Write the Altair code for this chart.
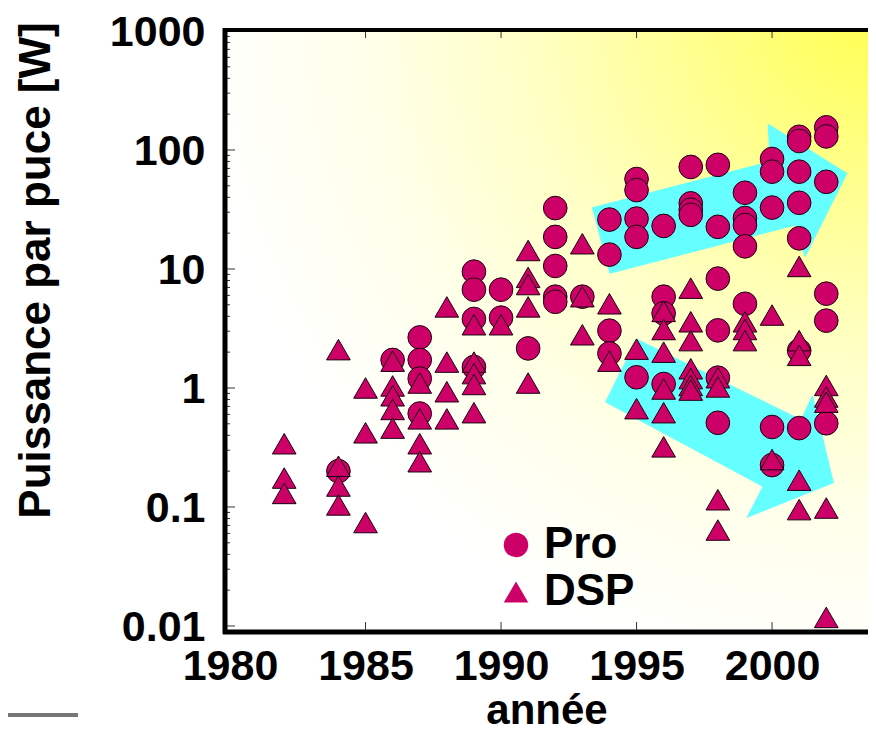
import altair as alt
import pandas as pd

# ---------------- data ----------------
pro_year = [1984, 1986, 1987, 1987, 1987, 1987,
            1989, 1989, 1989, 1989, 1990, 1990, 1991,
            1992, 1992, 1992, 1992, 1992, 1993,
            1994, 1994, 1994, 1994,
            1995, 1995, 1995, 1995, 1995,
            1996, 1996, 1996, 1996,
            1997, 1997, 1997, 1997,
            1998, 1998, 1998, 1998, 1998, 1998,
            1999, 1999, 1999, 1999, 1999,
            2000, 2000, 2000, 2000, 2000,
            2001, 2001, 2001, 2001, 2001, 2001, 2001,
            2002, 2002, 2002, 2002, 2002, 2002]
pro_power = [0.2, 1.72, 2.66, 1.72, 1.2, 0.61,
             9.5, 6.7, 3.8, 1.5, 6.7, 3.9, 2.15,
             32.5, 18.6, 10.6, 5.85, 5.3, 5.85,
             26.0, 13.2, 3.03, 1.95,
             57.0, 46.0, 26.5, 18.6, 1.23,
             23.0, 5.85, 4.24, 1.08,
             72.0, 35.6, 31.5, 28.5,
             75.0, 22.6, 8.3, 3.05, 1.22, 0.51,
             43.7, 26.8, 23.4, 15.5, 5.1,
             84.0, 65.7, 32.8, 0.47, 0.225,
             129.0, 119.0, 65.7, 36.0, 18.1, 2.06, 0.46,
             155.0, 130.0, 54.0, 6.2, 3.68, 0.505]

dsp_year = [1982, 1982, 1982,
            1984, 1984, 1984, 1984,
            1985, 1985, 1985,
            1986, 1986, 1986, 1986, 1986,
            1987, 1987, 1987, 1987,
            1988, 1988, 1988, 1988,
            1989, 1989, 1989, 1989, 1989,
            1990,
            1991, 1991, 1991, 1991, 1991,
            1993, 1993, 1993,
            1994, 1994,
            1995, 1995,
            1996, 1996, 1996, 1996, 1996, 1996,
            1997, 1997, 1997, 1997, 1997, 1997, 1997,
            1998, 1998, 1998, 1998,
            1999, 1999, 1999,
            2000, 2000,
            2001, 2001, 2001, 2001, 2001,
            2002, 2002, 2002, 2002, 2002]
dsp_power = [0.34, 0.175, 0.13,
             2.1, 0.22, 0.15, 0.104,
             1.0, 0.42, 0.074,
             1.68, 1.04, 0.86, 0.66, 0.46,
             1.1, 0.55, 0.34, 0.24,
             4.8, 1.65, 0.93, 0.55,
             3.4, 1.65, 1.32, 1.07, 0.62,
             3.4,
             14.3, 8.5, 7.4, 4.8, 1.1,
             16.3, 5.85, 2.8,
             5.1, 1.68,
             2.12, 0.67,
             4.4, 3.1, 2.0, 0.98, 0.62, 0.32,
             6.9, 3.6, 2.5, 1.45, 1.2, 1.05, 0.96,
             1.22, 1.02, 0.115, 0.064,
             3.6, 3.1, 2.5,
             4.1, 0.25,
             10.5, 2.5, 1.88, 0.168, 0.095,
             1.05, 0.84, 0.76, 0.098, 0.0118]

series_names = ["Pro", "DSP"]
series_shapes = ["circle", "triangle-up"]

# cyan trend arrows (outline vertices, in year / power units)
up_arrow_year = [1993.37, 1999.93, 1999.86, 2002.76, 2001.22, 2000.85, 1994.02, 1993.37]
up_arrow_power = [32.7, 79.7, 164.4, 63.5, 12.74, 23.4, 9.2, 32.7]
down_arrow_year = [1995.01, 2001.07, 2001.49, 2002.26, 1999.08, 1999.67, 1993.86, 1995.01]
down_arrow_power = [2.566, 0.538, 0.857, 0.160, 0.0819, 0.1487, 0.763, 2.566]

x_tick_years = [1980, 1985, 1990, 1995, 2000]
y_major = [0.01, 0.1, 1, 10, 100, 1000]
y_minor = [k * 10.0 ** e for e in range(-2, 3) for k in range(2, 10)]

# ---------------- tables ----------------
points = pd.DataFrame({
    "year": pro_year + dsp_year,
    "power": pro_power + dsp_power,
    "type": ["Pro"] * len(pro_year) + ["DSP"] * len(dsp_year),
})
arrows = pd.DataFrame({
    "year": up_arrow_year + down_arrow_year,
    "power": up_arrow_power + down_arrow_power,
    "arrow": ["up"] * len(up_arrow_year) + ["down"] * len(down_arrow_year),
    "i": list(range(len(up_arrow_year))) + list(range(len(down_arrow_year))),
})
one = pd.DataFrame({"a": [0]})

FONT = "Liberation Sans"
W, H = 643, 602
xs = alt.Scale(domain=[1979.815, 2003.54], nice=False, zero=False)
ys = alt.Scale(type="log", domain=[0.0089, 1019], nice=False)

x_axis = alt.Axis(values=x_tick_years, format="d", ticks=False, grid=False, domain=False,
                  labelFont=FONT, labelFontSize=43, labelFontWeight="bold",
                  labelColor="black", labelPadding=13, labelFlush=False,
                  labelOverlap=False,
                  title="année", titleFont=FONT, titleFontSize=42,
                  titleFontWeight="bold", titleColor="black",
                  titleY=91, titleBaseline="alphabetic")
y_axis = alt.Axis(values=y_major, format="~g", ticks=False, grid=False, domain=False,
                  labelFont=FONT, labelFontSize=43, labelFontWeight="bold",
                  labelColor="black", labelPadding=20, labelFlush=False,
                  labelOverlap=False, labelOffset=2,
                  title="Puissance par puce [W]", titleFont=FONT, titleFontSize=44,
                  titleFontWeight="bold", titleColor="black",
                  titleX=-176, titleY=240, titleAngle=270, titleAlign="center",
                  titleBaseline="alphabetic")


def X(field):
    return alt.X(field, scale=xs, axis=x_axis)


def Y(field):
    return alt.Y(field, scale=ys, axis=y_axis)


bg = alt.Chart(one).mark_rect(
    fill={"gradient": "radial", "x1": 1, "y1": 0, "r1": 0, "x2": 1, "y2": 0, "r2": 1.05,
          "stops": [{"offset": 0, "color": "#FFFF50"},
                    {"offset": 0.25, "color": "#FFFF8C"},
                    {"offset": 0.5, "color": "#FFFFC4"},
                    {"offset": 0.75, "color": "#FFFFEA"},
                    {"offset": 1, "color": "#FFFFFF"}]},
).encode(x=alt.value(0), x2=alt.value("width"), y=alt.value(0), y2=alt.value("height"))

arrow_layer = alt.Chart(arrows).mark_line(
    fill="#66FFFF", stroke="#66FFFF", strokeWidth=1, interpolate="linear"
).encode(
    x=X("year:Q"),
    y=Y("power:Q"),
    detail="arrow:N",
    order="i:Q",
)

# plot frame (left, bottom, top) drawn as thick black rules
top_line = alt.Chart(one).mark_rule(color="black", strokeWidth=4).encode(
    x=alt.value(-2), x2=alt.value("width"), y=alt.value(0))
bottom_line = alt.Chart(one).mark_rule(color="black", strokeWidth=5).encode(
    x=alt.value(-2), x2=alt.value("width"), y=alt.value("height"))
left_line = alt.Chart(one).mark_rule(color="black", strokeWidth=5).encode(
    x=alt.value(0), y=alt.value(-2), y2=alt.value(H + 2))

deco_line = alt.Chart(one).mark_rule(color="#777777", strokeWidth=4).encode(
    x=alt.value(-217), x2=alt.value(-147), y=alt.value(685))

ymaj = alt.Chart(pd.DataFrame({"power": y_major})).mark_rule(color="#333333", strokeWidth=1).encode(
    y=Y("power:Q"), x=alt.value(0), x2=alt.value(10))
ymin = alt.Chart(pd.DataFrame({"power": y_minor})).mark_rule(color="#333333", strokeWidth=1).encode(
    y=Y("power:Q"), x=alt.value(0), x2=alt.value(5))
xbot = alt.Chart(pd.DataFrame({"year": x_tick_years[1:]})).mark_rule(color="#333333", strokeWidth=1).encode(
    x=X("year:Q"), y=alt.value(H - 10), y2=alt.value(H))
xtop = alt.Chart(pd.DataFrame({"year": x_tick_years[1:]})).mark_rule(color="#333333", strokeWidth=1).encode(
    x=X("year:Q"), y=alt.value(0), y2=alt.value(8))

pts = alt.Chart(points).mark_point(
    filled=True, fill="#CC0066", stroke="#1A0010", strokeWidth=1, opacity=1, size=560
).encode(
    x=X("year:Q"),
    y=Y("power:Q"),
    shape=alt.Shape("type:N",
                    scale=alt.Scale(domain=series_names, range=series_shapes),
                    legend=alt.Legend(orient="none", legendX=269, legendY=493, title=None,
                                      labelFont=FONT, labelFontSize=44, labelFontWeight="bold",
                                      labelColor="black", symbolSize=600,
                                      symbolFillColor="#CC0066", symbolStrokeColor="#1A0010",
                                      symbolStrokeWidth=1, symbolOpacity=1,
                                      labelOffset=6, rowPadding=3, padding=0)),
)

chart = alt.layer(bg, arrow_layer, ymin, ymaj, xbot, xtop, top_line, bottom_line, left_line,
                  deco_line, pts).properties(
    width=W, height=H,
    padding={"left": 217, "top": 22, "right": 0, "bottom": 100},
    autosize=alt.AutoSizeParams(type="none"),
).configure_view(stroke=None).configure(background="white")

chart.save("out.html", embed_options={"renderer": "svg", "actions": False})
